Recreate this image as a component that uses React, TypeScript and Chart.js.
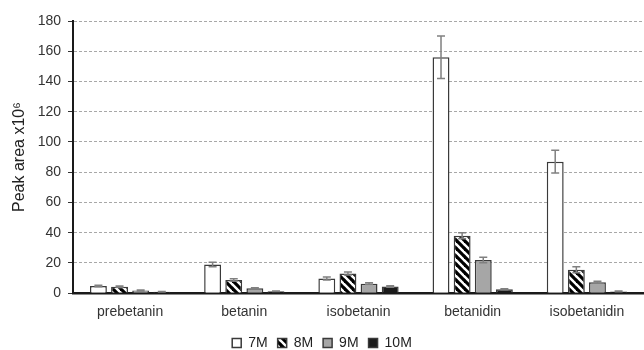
import React, { useEffect, useRef } from 'react';
import { Chart, registerables } from 'chart.js';

Chart.register(...registerables);

const categories = ['prebetanin', 'betanin', 'isobetanin', 'betanidin', 'isobetanidin'];
const seriesLabels = ['7M', '8M', '9M', '10M'];
const values7M = [4.8, 19, 9.7, 156, 87];
const values8M = [4.3, 8.8, 13, 38, 15.5];
const values9M = [1.8, 3.2, 6.3, 22, 7.2];
const values10M = [1.0, 1.3, 4.5, 2.6, 1.2];
const err7M = [0.5, 1.5, 1.0, 14, 7.5];
const err8M = [0.4, 0.8, 1.0, 2.0, 2.0];
const err9M = [0.3, 0.4, 0.6, 1.8, 0.7];
const err10M = [0.2, 0.2, 0.5, 0.4, 0.2];
const yMin = 0;
const yMax = 180;
const yStep = 20;
const yTitle = 'Peak area x10\u2076';

function makeStripePattern(): CanvasPattern | string {
  const s = 8;
  const c = document.createElement('canvas');
  c.width = s;
  c.height = s;
  const g = c.getContext('2d');
  if (!g) return '#000';
  g.fillStyle = '#ffffff';
  g.fillRect(0, 0, s, s);
  g.strokeStyle = '#000000';
  g.lineWidth = 3.2;
  for (const x0 of [-s, 0, s]) {
    g.beginPath();
    g.moveTo(x0 - 1, -1);
    g.lineTo(x0 + s + 1, s + 1);
    g.stroke();
  }
  const p = g.createPattern(c, 'repeat');
  return p || '#000';
}

const errorBarPlugin = {
  id: 'errorBars',
  afterDatasetsDraw(chart: any) {
    const ctx = chart.ctx;
    const yScale = chart.scales.y;
    chart.data.datasets.forEach((ds: any, di: number) => {
      const meta = chart.getDatasetMeta(di);
      const errs: number[] = ds.errors || [];
      meta.data.forEach((el: any, i: number) => {
        const v = ds.data[i];
        const e = errs[i] || 0;
        const x = el.x;
        const yTop = yScale.getPixelForValue(v + e);
        const yBot = yScale.getPixelForValue(Math.max(0, v - e));
        ctx.save();
        ctx.strokeStyle = '#808080';
        ctx.lineWidth = 1.5;
        ctx.beginPath();
        ctx.moveTo(x, yTop);
        ctx.lineTo(x, yBot);
        ctx.moveTo(x - 4, yTop);
        ctx.lineTo(x + 4, yTop);
        ctx.moveTo(x - 4, yBot);
        ctx.lineTo(x + 4, yBot);
        ctx.stroke();
        ctx.restore();
      });
    });
  },
};

export default function App() {
  const ref = useRef<HTMLCanvasElement | null>(null);

  useEffect(() => {
    if (!ref.current) return;
    const stripe = makeStripePattern();
    const fills = ['#ffffff', stripe, '#a6a6a6', '#1a1a1a'];
    const vals = [values7M, values8M, values9M, values10M];
    const errs = [err7M, err8M, err9M, err10M];
    const font = { family: '"Liberation Sans", Arial, sans-serif', size: 14 };
    const chart = new Chart(ref.current, {
      type: 'bar',
      data: {
        labels: categories,
        datasets: seriesLabels.map((lab, i) => ({
          label: lab,
          data: vals[i],
          errors: errs[i],
          backgroundColor: fills[i],
          borderColor: '#3a3a3a',
          borderWidth: 1.5,
          categoryPercentage: 0.74,
          barPercentage: 0.8,
        })) as any,
      },
      options: {
        animation: false,
        responsive: true,
        maintainAspectRatio: false,
        layout: { padding: { top: 21, right: 0, left: 0, bottom: -10 } },
        plugins: {
          tooltip: { enabled: false },
          legend: {
            position: 'bottom',
            labels: {
              boxWidth: 9,
              boxHeight: 9,
              padding: 10,
              color: '#222',
              font,
            },
          },
        },
        scales: {
          x: {
            grid: { display: false },
            border: { display: true, color: '#1a1a1a', width: 2.5 },
            ticks: { color: '#333', font, padding: 3 },
            afterFit: (scale: any) => {
              scale.height = scale.height + 2;
            },
          },
          y: {
            min: yMin,
            max: yMax,
            ticks: { stepSize: yStep, color: '#333', font, padding: 7 },
            grid: { color: '#a8a8a8', tickColor: '#333', tickLength: 5, lineWidth: 1 },
            border: { display: true, color: '#1a1a1a', width: 2, dash: [3, 2] },
            title: {
              display: true,
              text: yTitle,
              color: '#222',
              font: { ...font, size: 16 },
              padding: { top: 10, bottom: 0 },
            },
            afterFit: (scale: any) => {
              scale.width = 73;
            },
          },
        },
      },
      plugins: [errorBarPlugin],
    });
    return () => chart.destroy();
  }, []);

  return (
    <div style={{ position: 'fixed', left: 0, top: 0, width: 644, height: 350, background: '#fff' }}>
      <canvas ref={ref} />
    </div>
  );
}
